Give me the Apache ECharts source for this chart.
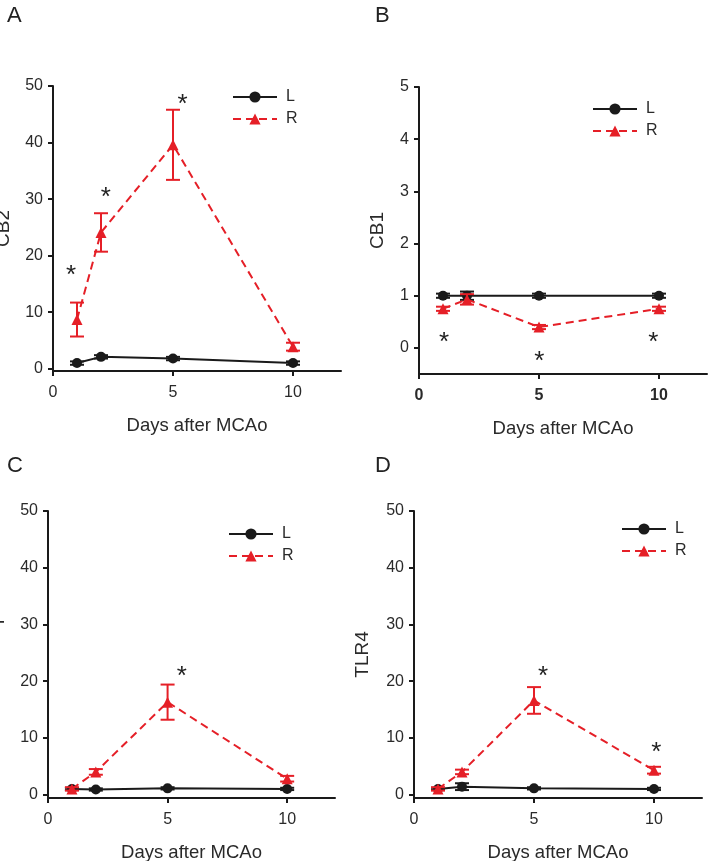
<!DOCTYPE html>
<html>
<head>
<meta charset="utf-8">
<script src="https://cdn.jsdelivr.net/npm/echarts@6/dist/echarts.min.js"></script>
<style>
  html, body { margin: 0; padding: 0; background: #fff; }
  #chart { width: 708px; height: 861px; }
</style>
</head>
<body>
<div id="chart"></div>
<script>
// x positions (days after MCAo)
const days = [1, 2, 5, 10];

// A: CB2
const cb2L = [1.0, 2.1, 1.8, 1.0];
const cb2LErr = [0.3, 0.3, 0.3, 0.3];
const cb2R = [8.7, 24.1, 39.6, 3.9];
const cb2RErr = [3.0, 3.4, 6.2, 0.7];
const cb2Stars = [[0.75, 17.5], [2.2, 31.2], [5.4, 47.8]];

// B: CB1
const cb1L = [1.0, 1.0, 1.0, 1.0];
const cb1LErr = [0.04, 0.08, 0.04, 0.04];
const cb1R = [0.75, 0.93, 0.40, 0.75];
const cb1RErr = [0.04, 0.1, 0.04, 0.04];
const cb1Stars = [[1.04, 0.21], [5.01, -0.16], [9.76, 0.21]];

// C: TLR2
const tlr2L = [1.0, 0.9, 1.1, 1.0];
const tlr2LErr = [0.2, 0.2, 0.2, 0.2];
const tlr2R = [1.0, 4.0, 16.3, 2.8];
const tlr2RErr = [0.3, 0.5, 3.1, 0.5];
const tlr2Stars = [[5.59, 21.9]];

// D: TLR4
const tlr4L = [1.0, 1.4, 1.1, 1.0];
const tlr4LErr = [0.2, 0.6, 0.2, 0.2];
const tlr4R = [1.0, 4.0, 16.6, 4.3];
const tlr4RErr = [0.3, 0.4, 2.35, 0.6];
const tlr4Stars = [[5.375, 21.9], [10.1, 8.5]];

const xTicks = [0, 5, 10];
const yTicks50 = [0, 10, 20, 30, 40, 50];
const yTicks5 = [0, 1, 2, 3, 4, 5];

const RED = '#e51f27';
const BLACK = '#1a1a1a';
const FONT = '"Liberation Sans", Arial, sans-serif';

const panels = [
    { letter: 'A', yName: 'CB2', L: cb2L, LErr: cb2LErr, R: cb2R, RErr: cb2RErr, stars: cb2Stars,
      yMin: -0.4, yMax: 50, yTicks: yTicks50, grid: { left: 53, top: 86, width: 288, height: 285 },
      nameGap: 40, xBold: false, letterPos: [7, 5], legendPos: [232, 89] },
    { letter: 'B', yName: 'CB1', L: cb1L, LErr: cb1LErr, R: cb1R, RErr: cb1RErr, stars: cb1Stars,
      yMin: -0.5, yMax: 5, yTicks: yTicks5, grid: { left: 419, top: 87, width: 288, height: 287 },
      nameGap: 32, xBold: true, letterPos: [375, 5], legendPos: [592, 101] },
    { letter: 'C', yName: 'TLR2 mRNA expression', L: tlr2L, LErr: tlr2LErr, R: tlr2R, RErr: tlr2RErr, stars: tlr2Stars,
      yMin: -0.6, yMax: 50, yTicks: yTicks50, grid: { left: 48, top: 511, width: 287, height: 287 },
      nameGap: 43.5, xBold: false, letterPos: [7, 455], legendPos: [228, 526] },
    { letter: 'D', yName: 'TLR4', L: tlr4L, LErr: tlr4LErr, R: tlr4R, RErr: tlr4RErr, stars: tlr4Stars,
      yMin: -0.6, yMax: 50, yTicks: yTicks50, grid: { left: 414, top: 511, width: 288, height: 287 },
      nameGap: 42, xBold: false, letterPos: [375, 455], legendPos: [621, 521] }
];

function errorBarItem(params, api) {
    const x = api.value(0), y = api.value(1), e = api.value(2);
    const top = api.coord([x, y + e]);
    const bot = api.coord([x, y - e]);
    const hw = 7;
    const style = { stroke: api.visual('color'), lineWidth: 2 };
    return {
        type: 'group',
        children: [
            { type: 'line', shape: { x1: top[0], y1: top[1], x2: bot[0], y2: bot[1] }, style: style },
            { type: 'line', shape: { x1: top[0] - hw, y1: top[1], x2: top[0] + hw, y2: top[1] }, style: style },
            { type: 'line', shape: { x1: bot[0] - hw, y1: bot[1], x2: bot[0] + hw, y2: bot[1] }, style: style }
        ]
    };
}

function starItem(params, api) {
    const p = api.coord([api.value(0), api.value(1)]);
    return {
        type: 'text',
        x: p[0], y: p[1] + 6,
        style: { text: '*', fill: '#222', font: '26px ' + FONT, align: 'center', verticalAlign: 'middle' }
    };
}

const option = {
    backgroundColor: '#fff',
    animation: false,
    title: [], grid: [], xAxis: [], yAxis: [], legend: [], series: []
};

panels.forEach((p, i) => {
    option.title.push({
        text: p.letter, left: p.letterPos[0], top: p.letterPos[1], padding: 0,
        textStyle: { fontFamily: FONT, fontSize: 22, fontWeight: 'normal', color: '#222' }
    });
    option.grid.push(Object.assign({ containLabel: false, outerBoundsMode: 'none' }, p.grid));
    option.xAxis.push({
        gridIndex: i, type: 'value', min: 0, max: 12,
        name: 'Days after MCAo', nameLocation: 'middle', nameGap: 45,
        nameTextStyle: { fontFamily: FONT, fontSize: 18.5, color: '#2a2a2a' },
        axisLine: { onZero: false, lineStyle: { color: BLACK, width: 2 } },
        axisTick: { length: 5, lineStyle: { color: BLACK, width: 2 }, customValues: xTicks },
        axisLabel: { customValues: xTicks, margin: 14, fontFamily: FONT, fontSize: 16,
                     color: '#2a2a2a', fontWeight: p.xBold ? 'bold' : 'normal' },
        splitLine: { show: false }
    });
    option.yAxis.push({
        gridIndex: i, type: 'value', min: p.yMin, max: p.yMax,
        name: p.yName, nameLocation: 'middle', nameGap: p.nameGap,
        nameTextStyle: { fontFamily: FONT, fontSize: 19, color: '#2a2a2a' },
        axisLine: { onZero: false, lineStyle: { color: BLACK, width: 2 } },
        axisTick: { length: 5, lineStyle: { color: BLACK, width: 2 }, customValues: p.yTicks },
        axisLabel: { customValues: p.yTicks, margin: 10, fontFamily: FONT, fontSize: 16, color: '#2a2a2a' },
        splitLine: { show: false }
    });
    option.legend.push({
        orient: 'vertical', left: p.legendPos[0], top: p.legendPos[1], padding: 0,
        itemWidth: 44, itemHeight: 14, itemGap: 6,
        data: ['L', 'R'],
        textStyle: { fontFamily: FONT, fontSize: 16, color: '#2a2a2a', padding: [0, 0, 0, 4] }
    });
    const lData = days.map((d, k) => [d, p.L[k]]);
    const rData = days.map((d, k) => [d, p.R[k]]);
    option.series.push({
        type: 'custom', xAxisIndex: i, yAxisIndex: i, renderItem: errorBarItem, silent: true, z: 3,
        itemStyle: { color: BLACK }, data: days.map((d, k) => [d, p.L[k], p.LErr[k]])
    });
    option.series.push({
        type: 'custom', xAxisIndex: i, yAxisIndex: i, renderItem: errorBarItem, silent: true, z: 4,
        itemStyle: { color: RED }, data: days.map((d, k) => [d, p.R[k], p.RErr[k]])
    });
    option.series.push({
        name: 'L', type: 'line', xAxisIndex: i, yAxisIndex: i, data: lData, z: 3,
        symbol: 'circle', symbolSize: 10,
        lineStyle: { color: BLACK, width: 2 }, itemStyle: { color: BLACK }
    });
    option.series.push({
        name: 'R', type: 'line', xAxisIndex: i, yAxisIndex: i, data: rData, z: 4,
        symbol: 'triangle', symbolSize: 11,
        lineStyle: { color: RED, width: 2, type: [8, 5] }, itemStyle: { color: RED }
    });
    option.series.push({
        type: 'custom', xAxisIndex: i, yAxisIndex: i, renderItem: starItem, silent: true, z: 5,
        data: p.stars
    });
});

const myChart = echarts.init(document.getElementById('chart'));
myChart.setOption(option);
</script>
</body>
</html>
